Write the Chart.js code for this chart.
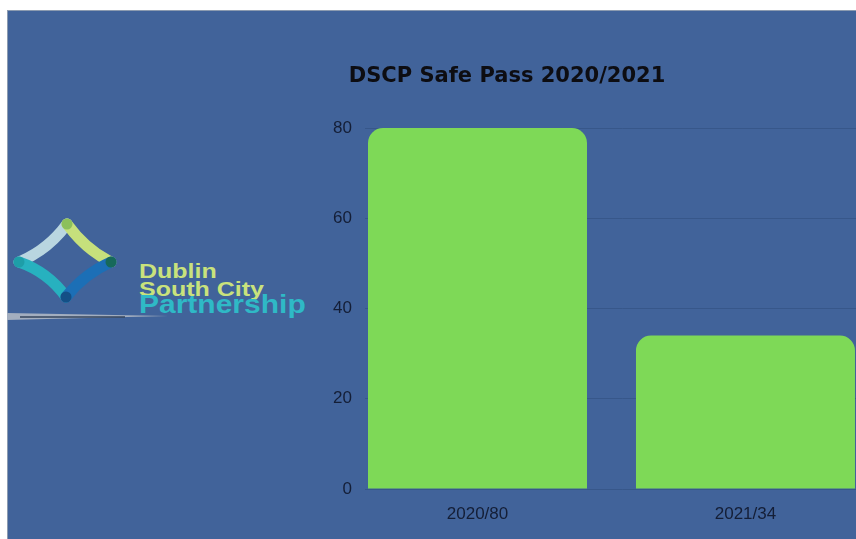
<!DOCTYPE html>
<html>
<head>
<meta charset="utf-8">
<script src="https://cdn.jsdelivr.net/npm/chart.js@4.4.1/dist/chart.umd.min.js"></script>
<style>
  html, body { margin:0; padding:0; width:856px; height:539px; overflow:hidden; background:#ffffff; }
  #panel { position:absolute; left:7px; top:10px; width:849px; height:529px; background:#41639a; border-left:1px solid #8c9bb0; border-top:1px solid #8c9bb0; box-sizing:border-box; }
  #wrap { position:absolute; left:134px; top:0; width:746px; height:539px; }
  #logo { position:absolute; left:0; top:0; width:320px; height:539px; pointer-events:none; }
  .lt { position:absolute; left:139px; font-family:"Liberation Sans", Arial, sans-serif; font-weight:bold; line-height:1; white-space:nowrap; transform:scale(1,0.84); transform-origin:left top; }
</style>
</head>
<body>
<div id="panel"></div>
<svg id="logo" width="320" height="539" viewBox="0 0 320 539">
  <polygon points="7,313 168,316 7,320" fill="#a3aebf"/>
  <line x1="20" y1="317" x2="125" y2="317" stroke="#35445c" stroke-width="1.5"/>
  <path d="M67,224 Q48,250 19,262" fill="none" stroke="#b9d6e0" stroke-width="11" stroke-linecap="round"/>
  <path d="M67,224 Q86,250 111,262" fill="none" stroke="#c6e07c" stroke-width="11" stroke-linecap="round"/>
  <path d="M19,262 Q48,272 66,297" fill="none" stroke="#27b1bf" stroke-width="11" stroke-linecap="round"/>
  <path d="M111,262 Q84,274 66,297" fill="none" stroke="#1c6fb6" stroke-width="11" stroke-linecap="round"/>
  <circle cx="67" cy="224" r="5.5" fill="#8cc05c"/>
  <circle cx="19" cy="262" r="5.5" fill="#1e9ea8"/>
  <circle cx="111" cy="262" r="5.5" fill="#17695a"/>
  <circle cx="66" cy="297" r="5.5" fill="#144f86"/>
</svg>
<div class="lt" style="top:260px;font-size:25px;color:#c9e27c;">Dublin</div>
<div class="lt" style="top:278px;font-size:25px;color:#c9e27c;">South City</div>
<div class="lt" style="top:292px;font-size:30px;color:#2fb9c6;">Partnership</div>
<div id="wrap"><canvas id="c" width="746" height="539"></canvas></div>
<script>
const title = "DSCP Safe Pass 2020/2021";
const categories = ["2020/80", "2021/34"];
const values = [80, 34];
const yTicks = [0, 20, 40, 60, 80];

const points = values.map((v, i) => ({ x: i, y: v }));

new Chart(document.getElementById('c'), {
  type: 'bar',
  data: {
    datasets: [{
      data: points,
      backgroundColor: '#7ed957',
      borderWidth: 0,
      borderRadius: 15,
      borderSkipped: 'start',
      categoryPercentage: 0.9,
      barPercentage: 0.908
    }]
  },
  options: {
    responsive: false,
    animation: false,
    devicePixelRatio: 1,
    layout: { padding: { left: 0, right: 0, top: 0, bottom: 0 } },
    plugins: {
      legend: { display: false },
      tooltip: { enabled: false },
      title: {
        display: true,
        text: title,
        color: '#0d0d12',
        font: { family: '"DejaVu Sans", sans-serif', size: 21, weight: 'bold', lineHeight: 1.2 },
        padding: { top: 64, bottom: 38.8 }
      }
    },
    scales: {
      x: {
        type: 'linear',
        offset: false,
        min: -0.4198,
        max: 1.502,
        afterBuildTicks: s => { s.ticks = categories.map((c, i) => ({ value: i })); },
        afterFit: s => { s.height = 50; },
        grid: { display: false },
        border: { display: false },
        ticks: {
          padding: 7,
          color: '#141e36',
          font: { family: '"Liberation Sans", Arial, sans-serif', size: 17 },
          callback: (v) => categories[Math.round(v)]
        }
      },
      y: {
        min: 0,
        max: 80,
        afterBuildTicks: s => { s.ticks = yTicks.map(v => ({ value: v })); },
        afterFit: s => { s.width = 231; },
        grid: { color: '#37578a', lineWidth: 1, drawTicks: false },
        border: { display: false },
        ticks: {
          padding: 13,
          color: '#141e36',
          font: { family: '"Liberation Sans", Arial, sans-serif', size: 17 }
        }
      }
    }
  }
});
</script>
</body>
</html>
